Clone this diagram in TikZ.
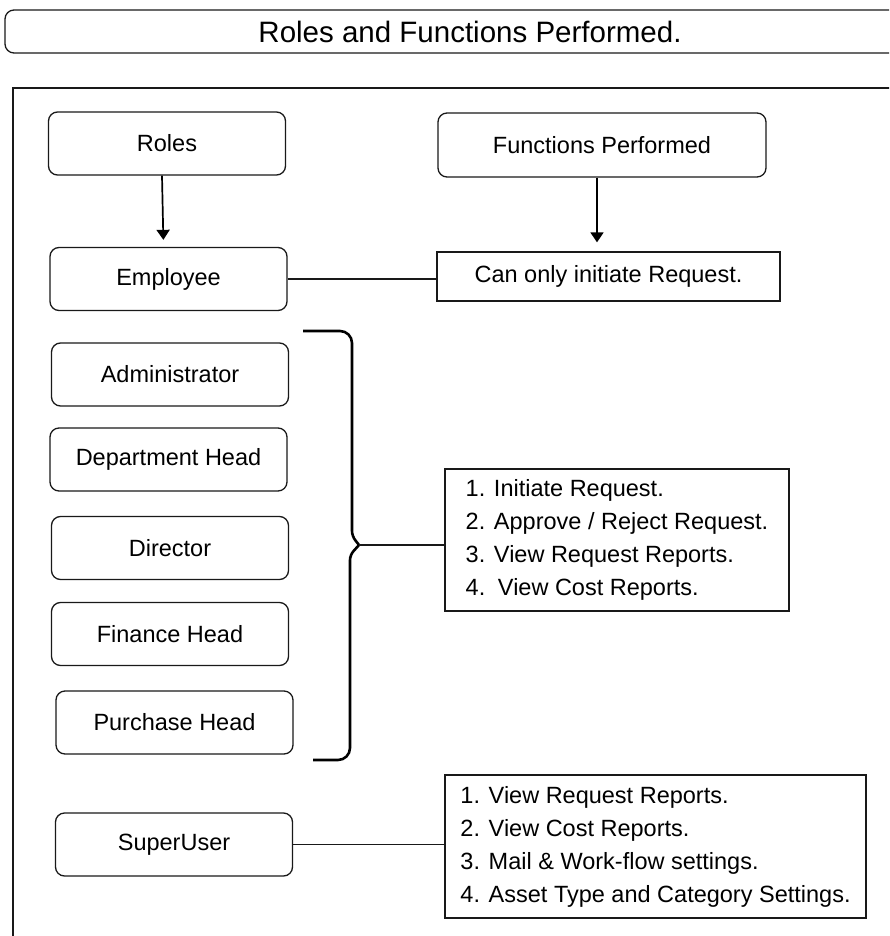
\documentclass[tikz,border=0pt]{standalone}
\usepackage{fontspec}
\setmainfont{Liberation Sans}
\usetikzlibrary{arrows.meta}
\begin{document}
\begin{tikzpicture}[x=1pt,y=-1pt,
  line/.style={line width=1.3pt, draw=black!90},
  rbox/.style={line, rounded corners=9pt, minimum width=237pt, minimum height=63pt, inner sep=0pt, font=\fontsize{23.5}{28}\selectfont},
  sbox/.style={line, inner sep=0pt, align=left, font=\fontsize{23.5}{33}\selectfont},
  arr/.style={line width=1.7pt, draw=black, -{Triangle[width=13pt,length=10pt]}},
  brace/.style={line width=2.6pt, draw=black}]
\useasboundingbox (0,0) rectangle (889,936);
\clip (0,0) rectangle (889,936);
% title
\node[line, rounded corners=9pt, minimum width=930pt, minimum height=43pt, inner sep=0pt,
      font=\fontsize{29.5}{34}\selectfont] (title) at (470,31.5) {Roles and Functions Performed.};
% outer frame
\draw[line] (13,88) rectangle (920,960);
% roles column
\node[rbox] (roles) at (167,143.5) {Roles};
\node[rbox] (emp) at (168.5,279) {Employee};
\node[rbox] (admin) at (170,374.5) {Administrator};
\node[rbox] (dept) at (168.5,459.5) {Department Head};
\node[rbox] (dir) at (170,548) {Director};
\node[rbox] (fin) at (170,634) {Finance Head};
\node[rbox] (pur) at (174.5,722.5) {Purchase Head};
\node[rbox] (su) at (174,844.5) {SuperUser};
% functions column
\node[rbox, minimum width=328pt, minimum height=64pt] (fp) at (602,145) {Functions Performed};
\node[sbox, minimum width=343pt, minimum height=49pt] (can) at (608.5,276.5) {Can only initiate Request.};
\node[sbox, minimum width=344pt, minimum height=142pt] (mid) at (617,540)
  {1. Initiate Request.\\2. Approve / Reject Request.\\3. View Request Reports.\\4.\hspace{4pt} View Cost Reports.};
\node[sbox, minimum width=421pt, minimum height=143pt] (bot) at (655.5,846.5)
  {1. View Request Reports.\\2. View Cost Reports.\\3. Mail \& Work-flow settings.\\4. Asset Type and Category Settings.};
% brace
\coordinate (btip) at (359,545);
\draw[brace] (303,331) [rounded corners=12pt] -- (352,331) [rounded corners=5pt] -- (352,536) [sharp corners] -- (btip)
   [rounded corners=5pt] -- (350,555) [rounded corners=12pt] -- (350,760) -- (313,760);
% connectors
\draw[arr, shorten >=7pt] ([xshift=-5pt]roles.south) -- ([xshift=-5pt]emp.north);
\draw[arr, shorten >=9pt] ([xshift=-5pt]fp.south) -- ([xshift=-5pt]fp.south |- can.north);
\draw[line] (emp.east) -- (emp.east -| can.west);
\draw[line] (btip) -- (btip -| mid.west);
\draw[line] (su.east) -- (su.east -| bot.west);
\end{tikzpicture}
\end{document}
